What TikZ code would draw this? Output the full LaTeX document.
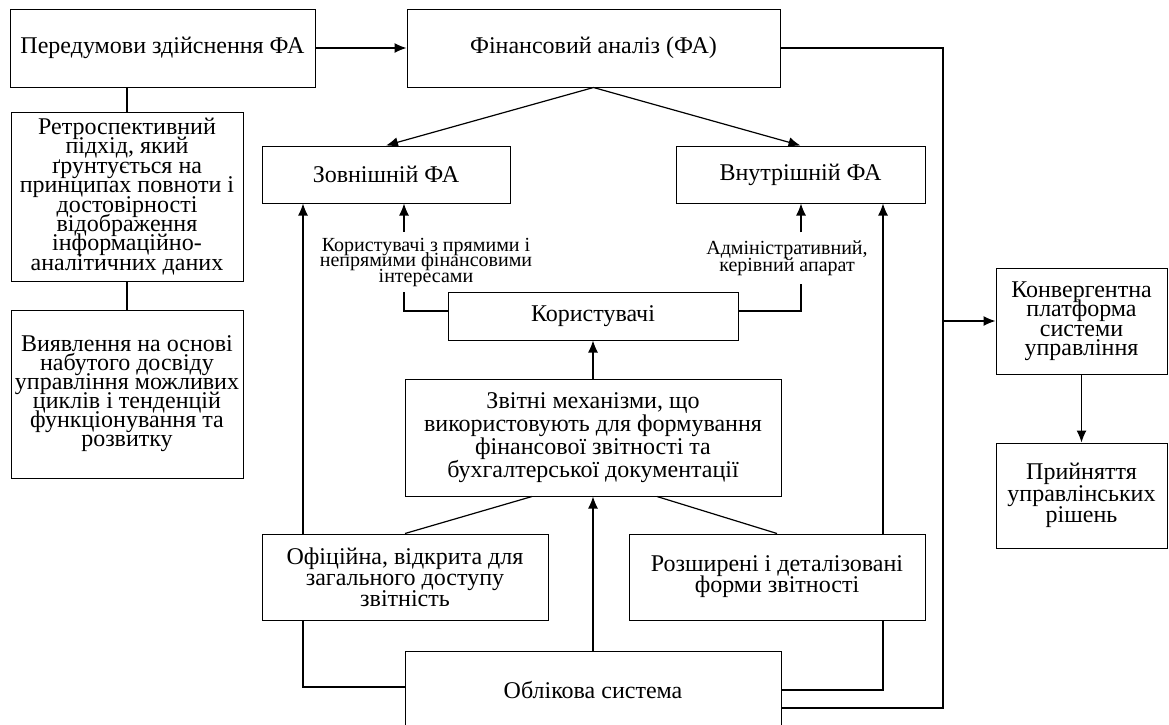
\documentclass[tikz,border=0pt]{standalone}
\usepackage{fontspec}
\setmainfont{Liberation Serif}
\usetikzlibrary{arrows.meta, positioning}
\lineskiplimit=-50pt

\begin{document}
\begin{tikzpicture}[x=1pt, y=-1pt]
    % Define styles
    \tikzstyle{box} = [rectangle, draw=black, line width=1pt, align=center, inner sep=0pt, font=\fontsize{24}{20}\selectfont]
    \tikzstyle{note} = [align=center, inner sep=0pt, font=\fontsize{20}{15.5}\selectfont]
    \tikzstyle{arrow} = [line width=1.2pt, -{Latex[length=12pt,width=10pt]}]
    \tikzstyle{link} = [line width=1.2pt]

    \useasboundingbox (0,0) rectangle (1169,724);

    % Top row
    \node (pered) [box, minimum width=305pt, minimum height=78pt] at (162.5,48) {Передумови здійснення ФА};
    \node (fa) [box, minimum width=373pt, minimum height=78pt] at (593.5,48) {Фінансовий аналіз (ФА)};

    % Left column
    \node (retro) [box, minimum width=232pt, minimum height=169pt, font=\fontsize{24}{19.4}\selectfont] at (127,196.5) {Ретроспективний\\ підхід, який\\ ґрунтується на\\ принципах повноти і\\ достовірності\\ відображення\\ інформаційно-\\ аналітичних даних};
    \node (vyyav) [box, minimum width=232pt, minimum height=168pt, font=\fontsize{24}{19}\selectfont] at (127,394) {Виявлення на основі\\ набутого досвіду\\ управління можливих\\ циклів і тенденцій\\ функціонування та\\ розвитку};

    % Kinds of analysis
    \node (zovn) [box, minimum width=248pt, minimum height=57pt] at (386,174.5) {Зовнішній ФА};
    \node (vnutr) [box, minimum width=249pt, minimum height=57pt] at (800.5,174.5) {Внутрішній ФА};

    % Users
    \node (koryst) [box, minimum width=290pt, minimum height=48pt] at (593,316) {Користувачі};
    \node (lbl_ext) [note, minimum height=60pt] at (426,262) {Користувачі з прямими і\\ непрямими фінансовими\\ інтересами};
    \node (lbl_int) [note, minimum height=51pt, font=\fontsize{20}{17}\selectfont] at (787,258) {Адміністративний,\\ керівний апарат};

    % Reporting
    \node (zvitni) [box, minimum width=376pt, minimum height=117pt, font=\fontsize{24}{23}\selectfont] at (593,437.5) {Звітні механізми, що\\ використовують для формування\\ фінансової звітності та\\ бухгалтерської документації};
    \node (ofits) [box, minimum width=286pt, minimum height=86pt, font=\fontsize{24}{21}\selectfont] at (405,577) {Офіційна, відкрита для\\ загального доступу\\ звітність};
    \node (rozsh) [box, minimum width=296pt, minimum height=86pt, font=\fontsize{24}{21}\selectfont] at (777,577) {Розширені і деталізовані\\ форми звітності};
    \node (oblik) [box, minimum width=376pt, minimum height=84pt] at (593,693) {\raisebox{6pt}{Облікова система}};

    % Management
    \node (konv) [box, minimum width=171pt, minimum height=106pt, font=\fontsize{24}{19.5}\selectfont] at (1081.5,321) {Конвергентна\\ платформа\\ системи\\ управління};
    \node (prin) [box, minimum width=171pt, minimum height=105pt, font=\fontsize{24}{21.5}\selectfont] at (1081.5,495.5) {Прийняття\\ управлінських\\ рішень};

    % Bend points
    \coordinate (xl) at (303,0);
    \coordinate (xr) at (883,0);
    \coordinate (ext_in) at (404,262);
    \coordinate (int_in) at (801,258);
    \coordinate (trunk) at (943,321);

    % Top connections
    \draw [arrow] (pered) -- (fa);
    \draw [link] (retro.north) -- (retro.north |- pered.south);
    \draw [link] (retro) -- (vyyav);
    \draw [arrow] (fa.south) -- (zovn.north);
    \draw [arrow] (fa.south) -- (vnutr.north);

    % Users to analysis
    \draw [link] ([yshift=5pt]koryst.west) -| (ext_in |- lbl_ext.south);
    \draw [arrow] (ext_in |- lbl_ext.north) -- (ext_in |- zovn.south);
    \draw [link] ([yshift=5pt]koryst.east) -| (int_in |- lbl_int.south);
    \draw [arrow] (int_in |- lbl_int.north) -- (int_in |- vnutr.south);

    % Reporting flows
    \draw [arrow] (zvitni) -- (koryst);
    \draw [link] ([xshift=-61pt]zvitni.south) -- (ofits.north);
    \draw [link] ([xshift=64pt]zvitni.south) -- (rozsh.north);
    \draw [arrow] (xl |- ofits.north) -- (xl |- zovn.south);
    \draw [arrow] (xr |- rozsh.north) -- (xr |- vnutr.south);
    \draw [arrow] (oblik) -- (zvitni);
    \draw [link] ([yshift=6pt]oblik.west) -| (xl |- ofits.south);
    \draw [link] ([yshift=3pt]oblik.east) -| (xr |- rozsh.south);

    % Trunk to management
    \draw [link] ([yshift=-15pt]oblik.east) -| (trunk |- fa.east) -- (fa.east);
    \draw [arrow] (trunk) -- (konv.west);
    \draw [arrow] (konv) -- (prin);
\end{tikzpicture}
\end{document}
